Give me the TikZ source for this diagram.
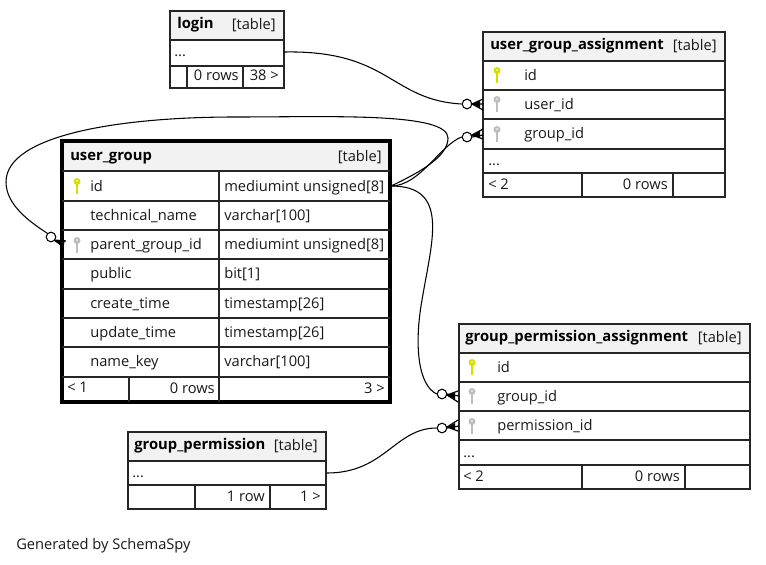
\documentclass[tikz,border=0pt]{standalone}
\usepackage{fontspec}
\setmainfont{Open Sans}
\tikzset{
  x=0.75pt,y=-0.75pt,
  txt/.style={inner sep=0pt,anchor=base west,font=\fontsize{11pt}{13pt}\selectfont,text=black!90},
  txtr/.style={txt,anchor=base east},
  ttl/.style={txt,font=\fontsize{11.1pt}{13pt}\selectfont\bfseries,text=black},
  grid/.style={line width=0.9pt,draw=black!85},
  frame/.style={line width=1pt,draw=black!85},
  head/.style={fill=black!5,draw=none},
  conn/.style={line width=0.8pt,draw=black},
  knob/.style={circle,draw=black,fill=white,line width=0.8pt,inner sep=0pt,minimum size=7.2pt},
  foot/.style={line width=0.9pt,draw=black},
}
\definecolor{keyy}{RGB}{214,222,0}
\definecolor{keyg}{RGB}{190,190,190}
\newcommand{\keyicon}[3]{% x,y,colour
  \draw[#3,line width=2pt] (#1,#2) ++(0,-5) -- ++(0,13);
  \fill[#3] (#1,#2) ++(0,-4.5) circle[radius=3.5];
  \fill[white] (#1,#2) ++(0,-5) circle[radius=0.9];}
\begin{document}
\begin{tikzpicture}
\useasboundingbox (0,0) rectangle (766,564);
% --- headers
\fill[head] (170,11) rectangle (284,40);
\fill[head] (483,32) rectangle (725,61);
\fill[head] (62,141) rectangle (390,171);
\fill[head] (459,324) rectangle (750,353);
\fill[head] (128,432) rectangle (326,461);
% --- login
\coordinate (loginE) at (284,52);
\draw[frame] (170,11) rectangle (284,88);
\draw[grid] (170,40)--(284,40) (170,66)--(284,66) (187,66)--(187,88) (243,66)--(243,88);
\node[ttl] (t1) at (177,28) {login};
\node[txtr] (t1b) at (276,29) {[table]};
\node[txt] (l1) at (174,56) {...};
\node[txtr] (l2) at (239,80) {0 rows};
\node[txtr] (l3) at (279,80) {38 >};
% --- user_group_assignment
\draw[frame] (483,32) rectangle (725,197);
\draw[grid] (483,61)--(725,61) (483,90)--(725,90) (483,119)--(725,119) (483,149)--(725,149) (483,173)--(725,173)
  (582,173)--(582,197) (673,173)--(673,197);
\node[ttl] (t2) at (490,49) {user\_group\_assignment};
\node[txtr] (t2b) at (717,50) {[table]};
\keyicon{497}{75}{keyy}\keyicon{497}{104}{keyg}\keyicon{497}{134}{keyg}
\node[txt] (a1) at (524,80) {id};
\node[txt] (a2) at (524,109) {user\_id};
\node[txt] (a3) at (524,138) {group\_id};
\node[txt] (a4) at (488,165) {...};
\node[txt] (a5) at (488,189) {< 2};
\node[txtr] (a6) at (668,189) {0 rows};
% --- user_group
\draw[line width=2.4pt,draw=black] (62,141) rectangle (390,402);
\draw[grid] (62,171)--(390,171) (62,201)--(390,201) (62,230)--(390,230) (62,259)--(390,259) (62,289)--(390,289)
  (62,318)--(390,318) (62,347)--(390,347) (62,377)--(390,377)
  (219,171)--(219,402) (129,377)--(129,402);
\node[ttl] (t3) at (70,160) {user\_group};
\node[txtr] (t3b) at (382,161) {[table]};
\keyicon{77}{186}{keyy}\keyicon{77}{245}{keyg}
\foreach \n/\y/\a/\b in {g1/191/id/mediumint unsigned[8],g2/220/technical\_name/varchar[100],g3/249/parent\_group\_id/mediumint unsigned[8],g4/278/public/bit[1],g5/308/create\_time/timestamp[26],g6/337/update\_time/timestamp[26],g7/366/name\_key/varchar[100]}{
  \node[txt] (\n a) at (90,\y) {\a};
  \node[txt] (\n b) at (224,\y) {\b};
}
\node[txt] (g8) at (67,392) {< 1};
\node[txtr] (g9) at (215,393) {0 rows};
\node[txtr] (g10) at (385,393) {3 >};
\coordinate (gE) at (391,186);
\coordinate (pW) at (62,245);
% --- group_permission_assignment
\draw[frame] (459,324) rectangle (750,489);
\draw[grid] (459,353)--(750,353) (459,382)--(750,382) (459,411)--(750,411) (459,440)--(750,440) (459,465)--(750,465)
  (582,465)--(582,489) (685,465)--(685,489);
\node[ttl] (t4) at (465,341) {group\_permission\_assignment};
\node[txtr] (t4b) at (742,342) {[table]};
\keyicon{472}{367}{keyy}\keyicon{472}{396}{keyg}\keyicon{472}{426}{keyg}
\node[txt] (p1) at (497,372) {id};
\node[txt] (p2) at (497,401) {group\_id};
\node[txt] (p3) at (497,430) {permission\_id};
\node[txt] (p4) at (463,457) {...};
\node[txt] (p5) at (463,481) {< 2};
\node[txtr] (p6) at (680,481) {0 rows};
% --- group_permission
\draw[frame] (128,432) rectangle (326,509);
\draw[grid] (128,461)--(326,461) (128,485)--(326,485) (195,485)--(195,509) (270,485)--(270,509);
\node[ttl] (t5) at (134,449) {group\_permission};
\node[txtr] (t5b) at (318,450) {[table]};
\node[txt] (q1) at (132,477) {...};
\node[txtr] (q2) at (265,501) {1 row};
\node[txtr] (q3) at (321,501) {1 >};
\coordinate (qE) at (327,473);
% --- footer
\node[txt] (gen) at (16,549) {Generated by SchemaSpy};
% --- connectors
\node[knob] (k1) at (467,104) {};
\node[knob] (k2) at (467,137) {};
\node[knob] (k3) at (442,394) {};
\node[knob] (k4) at (442,428) {};
\node[knob] (k5) at (51,237) {};
\draw[conn] (loginE) .. controls (390,50) and (390,100) .. (k1.west);
\draw[conn] (gE) .. controls (420,186) and (440,145) .. (k2.west);
\draw[conn] (gE) .. controls (450,186) and (432,240) .. (422,300) .. controls (414,345) and (418,385) .. (k3.west);
\draw[conn] (qE) .. controls (385,473) and (395,428) .. (k4.west);
\draw[conn] (gE) .. controls (425,170) and (448,155) .. (448,138) .. controls (448,112) and (330,117) .. (235,117)
  .. controls (120,117) and (6,135) .. (6,182) .. controls (6,205) and (30,222) .. (k5.north west);
% crow feet
\draw[foot] (k1.east)--(483,104) (483,99)--(472,104)--(483,110);
\fill (472,104)--(480,100.5)--(480,108)--cycle;
\draw[foot] (k2.east)--(483,135) (483,129)--(472,135)--(483,139);
\fill (472,135)--(480,131)--(480,138)--cycle;
\draw[foot] (k3.east)--(459,396) (458,391)--(447,395)--(458,402);
\fill (447,395)--(455,392)--(455,399.5)--cycle;
\draw[foot] (k4.east)--(459,426) (458,420)--(447,427)--(458,431);
\fill (447,427)--(455,423)--(455,430)--cycle;
\draw[foot] (k5.south east)--(pW) (54,240)--(66,241);
\fill (54,240)--(65,240)--(63,248)--cycle;
\end{tikzpicture}
\end{document}
